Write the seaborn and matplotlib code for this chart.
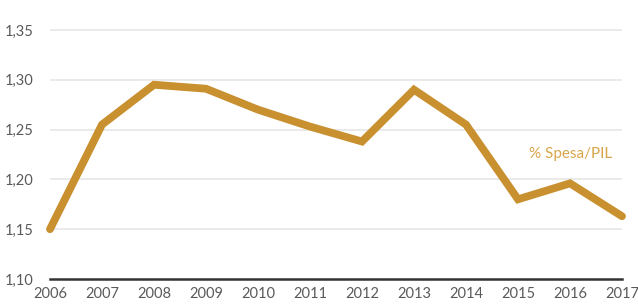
import matplotlib
matplotlib.use("Agg")
import matplotlib.pyplot as plt
import seaborn as sns
import pandas as pd

years = [2006, 2007, 2008, 2009, 2010, 2011, 2012, 2013, 2014, 2015, 2016, 2017]
spesa_pil = [1.150, 1.255, 1.295, 1.291, 1.270, 1.253, 1.238, 1.290, 1.255, 1.180, 1.196, 1.163]
yticks = [1.10, 1.15, 1.20, 1.25, 1.30, 1.35]
ytick_labels = ["1,10", "1,15", "1,20", "1,25", "1,30", "1,35"]
series_label = "% Spesa/PIL"

df = pd.DataFrame({"anno": years, "valore": spesa_pil})

sns.set_style("white")
plt.rcParams['font.family'] = ['Lato', 'DejaVu Sans']

fig = plt.figure(figsize=(6.38, 3.08), dpi=100)
ax = fig.add_axes([50/638, 29/308, 572/638, 259/308])

sns.lineplot(data=df, x="anno", y="valore", ax=ax, color="#C8902F",
             linewidth=5.6, clip_on=False, solid_joinstyle="miter")

ax.set_yticks(yticks)
ax.set_yticklabels(ytick_labels)
ax.set_xticks(years)
ax.set_xticklabels([str(y) for y in years])
ax.set_xlim(2006, 2017)
ax.set_ylim(1.10, 1.36)

for t in yticks[1:]:
    ax.axhline(t, color="#E6E6E6", linewidth=1.2, zorder=0)

for s in ["top", "right", "left"]:
    ax.spines[s].set_visible(False)
ax.spines["bottom"].set_color("#333333")
ax.spines["bottom"].set_linewidth(1.8)

ax.tick_params(axis="y", length=0, pad=12, labelsize=10.5, labelcolor="#5A5A5A")
ax.tick_params(axis="x", length=0, pad=6, labelsize=10.5, labelcolor="#5A5A5A")
ax.set_xlabel("")
ax.set_ylabel("")

ax.text(2016.02, 1.225, series_label, color="#D9A54A", fontsize=11,
        ha="center", va="center")

fig.savefig("out.png", dpi=100)
